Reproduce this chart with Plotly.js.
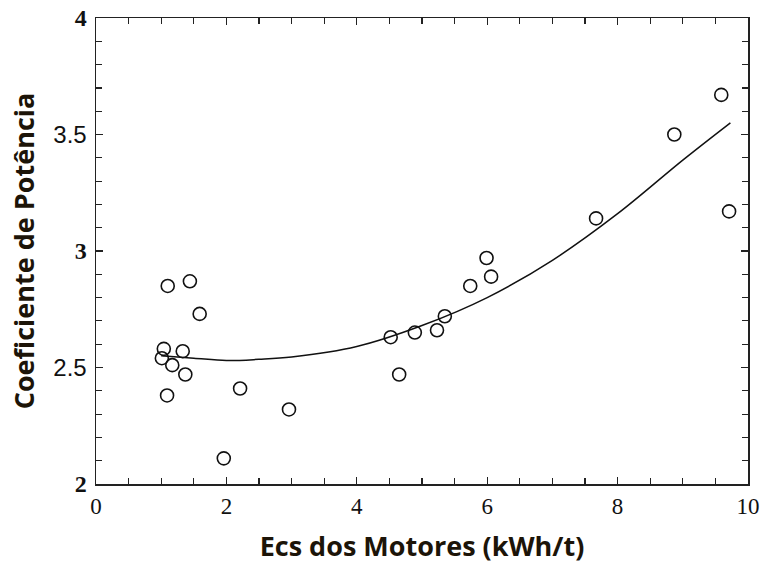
<!DOCTYPE html>
<html>
<head>
<meta charset="utf-8">
<script src="https://cdn.plot.ly/plotly-3.0.1.min.js"></script>
<style>html,body{margin:0;padding:0;background:#fff;}#chart{width:762px;height:567px;}</style>
</head>
<body>
<div id="chart"></div>
<script>
// Observed points
const ecs = [1.01, 1.04, 1.10, 1.09, 1.17, 1.33, 1.37, 1.44, 1.59, 1.96, 2.21, 2.96,
             4.52, 4.65, 4.89, 5.23, 5.35, 5.74, 5.99, 6.06, 7.67, 8.87, 9.59, 9.71];
const coef = [2.54, 2.58, 2.85, 2.38, 2.51, 2.57, 2.47, 2.87, 2.73, 2.11, 2.41, 2.32,
              2.63, 2.47, 2.65, 2.66, 2.72, 2.85, 2.97, 2.89, 3.14, 3.50, 3.67, 3.17];
// Fitted curve
const fitX = [1.0, 1.5, 2.0, 2.5, 3.0, 4.0, 5.0, 6.0, 7.0, 8.0, 9.0, 9.73];
const fitY = [2.55, 2.54, 2.53, 2.535, 2.545, 2.59, 2.68, 2.80, 2.96, 3.16, 3.39, 3.55];
// Tick labels
const xTickVals = [0, 2, 4, 6, 8, 10];
const xTickText = ['0', '2', '4', '6', '8', '10'];
const yTickVals = [2, 2.5, 3, 3.5, 4];
const yTickText = ['2', '2.5', '3', '3.5', '4'];
const xTitle = 'Ecs dos Motores (kWh/t)';
const yTitle = 'Coeficiente de Potência';

const serif = 'Liberation Serif, DejaVu Serif, serif';
const sans = 'Liberation Sans, Arial, sans-serif';
const yTickHtml = yTickText.map(t => (t.length === 1)
  ? '<span style="font-family:' + serif + ';font-weight:bold">' + t + '</span>'
  : t);

const traces = [
  {x: fitX, y: fitY, mode: 'lines', line: {color: '#111', width: 1.5, shape: 'spline'}, hoverinfo: 'skip'},
  {x: ecs, y: coef, mode: 'markers',
   marker: {symbol: 'circle-open', size: 13, color: '#111', line: {width: 1.6, color: '#111'}}}
];

const titleFont = {family: 'Open Sans, DejaVu Sans, sans-serif', size: 27, color: '#1c1408', weight: 'bold'};
const tk = {ticks: 'inside', ticklen: 7, tickwidth: 1.3, tickcolor: '#222',
            showline: true, linecolor: '#222', linewidth: 1.5, showgrid: false, zeroline: false};
const xMinor = {dtick: 0.5, ticks: 'inside', ticklen: 6, tickwidth: 1.2, tickcolor: '#222', showgrid: false};
const yMinor = {dtick: 0.1, ticks: 'inside', ticklen: 6, tickwidth: 1.2, tickcolor: '#222', showgrid: false};

const layout = {
  width: 762, height: 567,
  margin: {l: 96, r: 14, t: 18, b: 83},
  paper_bgcolor: '#fff', plot_bgcolor: '#fff',
  showlegend: false,
  xaxis: Object.assign({}, tk, {
    range: [0, 10], tickmode: 'array', tickvals: xTickVals, ticktext: xTickText,
    tickfont: {family: serif, size: 23, color: '#111'}, ticklabelstandoff: 1,
    minor: Object.assign({tick0: 0}, xMinor),
    title: {text: xTitle, font: titleFont, standoff: 19}
  }),
  yaxis: Object.assign({}, tk, {
    range: [2, 4], tickmode: 'array', tickvals: yTickVals, ticktext: yTickHtml,
    tickfont: {family: sans, size: 24, color: '#111'}, ticklabelstandoff: 3,
    minor: Object.assign({tick0: 2}, yMinor),
    title: {text: yTitle, font: titleFont, standoff: 11}
  }),
  xaxis2: Object.assign({}, tk, {
    overlaying: 'x', side: 'top', range: [0, 10], dtick: 2, tick0: 0, showticklabels: false,
    minor: Object.assign({tick0: 0}, xMinor)
  }),
  yaxis2: Object.assign({}, tk, {
    overlaying: 'y', side: 'right', range: [2, 4], dtick: 0.5, tick0: 2, showticklabels: false,
    minor: Object.assign({tick0: 2}, yMinor)
  })
};

// invisible helper trace so the mirrored axes are drawn
traces.push({x: [fitX[0]], y: [fitY[0]], xaxis: 'x2', yaxis: 'y2', mode: 'markers',
             marker: {opacity: 0}, hoverinfo: 'skip'});

Plotly.newPlot('chart', traces, layout, {displayModeBar: false, staticPlot: true});
</script>
</body>
</html>
